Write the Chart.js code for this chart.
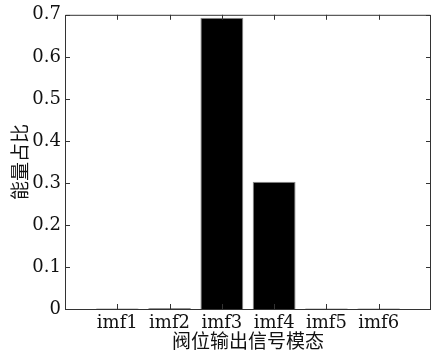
<!DOCTYPE html>
<html>
<head>
<meta charset="utf-8">
<script src="https://cdn.jsdelivr.net/npm/chart.js@4"></script>
<style>
  html,body{margin:0;padding:0;background:#fff;}
  #wrap{width:431px;height:360px;}
</style>
</head>
<body>
<div id="wrap"><canvas id="barChart" width="431" height="360"></canvas></div>
<script>
// data
const modes = ['imf1','imf2','imf3','imf4','imf5','imf6'];
const energyShare = [0.001, 0.002, 0.693, 0.303, 0.001, 0.001];
const yTicks = [0, 0.1, 0.2, 0.3, 0.4, 0.5, 0.6, 0.7];
const xTitle = '阀位输出信号模态';
const yTitle = '能量占比';

const serif = "'DejaVu Serif', 'Liberation Serif', serif";
const cjk = "'Noto Sans CJK SC', sans-serif";

// MATLAB style box with inward ticks
const boxTicks = {
  id:'boxTicks',
  afterDraw(chart){
    const {ctx, chartArea:a, scales:{x,y}} = chart;
    const len = 5;
    ctx.save();
    ctx.strokeStyle = '#333';
    ctx.lineWidth = 1;
    ctx.beginPath();
    ctx.rect(a.left+0.5, a.top+0.5, a.right-a.left-1, a.bottom-a.top);
    yTicks.forEach(v=>{
      const py = Math.round(y.getPixelForValue(v))+0.5;
      ctx.moveTo(a.left, py); ctx.lineTo(a.left+len, py);
      ctx.moveTo(a.right, py); ctx.lineTo(a.right-len, py);
    });
    modes.forEach((m,i)=>{
      const px = Math.round(x.getPixelForValue(i+1))+0.5;
      ctx.moveTo(px, a.bottom); ctx.lineTo(px, a.bottom-len);
      ctx.moveTo(px, a.top); ctx.lineTo(px, a.top+len);
    });
    ctx.stroke();
    ctx.restore();
  }
};

window.addEventListener('load', ()=>{
  const barCtx = document.getElementById('barChart');
  new Chart(barCtx, {
    type:'bar',
    data:{
      datasets:[{
        data: energyShare.map((v,i)=>({x:i+1, y:v})),
        backgroundColor:'#000',
        borderColor:'#8a8a8a',
        borderWidth:1,
        barPercentage:0.82,
        categoryPercentage:1
      }]
    },
    options:{
      responsive:false,
      animation:false,
      layout:{padding:{top:11,right:0,left:8,bottom:8}},
      plugins:{legend:{display:false},tooltip:{enabled:false}},
      scales:{
        x:{
          type:'linear',
          offset:false,
          min:0, max:modes.length+1,
          grid:{display:false, drawTicks:false, offset:false},
          border:{display:false},
          afterBuildTicks(s){ s.ticks = modes.map((m,i)=>({value:i+1})); },
          afterFit(s){ s.height = 43; },
          ticks:{
            autoSkip:false, maxRotation:0, padding:4, color:'#111',
            font:{family:serif, size:18},
            callback:(v)=>modes[v-1] || ''
          },
          title:{display:true, text:xTitle, color:'#111', padding:{top:0,bottom:0},
            font:{family:cjk, size:19}}
        },
        y:{
          min:0, max:0.7,
          grid:{display:false, drawTicks:false},
          border:{display:false},
          afterBuildTicks(s){ s.ticks = yTicks.map(v=>({value:v})); },
          afterFit(s){ s.width = 57; },
          ticks:{
            padding:4, color:'#111',
            font:{family:serif, size:18},
            callback:(v)=>String(Math.round(v*10)/10)
          },
          title:{display:true, text:yTitle, color:'#111', padding:{top:0,bottom:2},
            font:{family:cjk, size:19}}
        }
      }
    },
    plugins:[boxTicks]
  });
});
</script>
</body>
</html>
